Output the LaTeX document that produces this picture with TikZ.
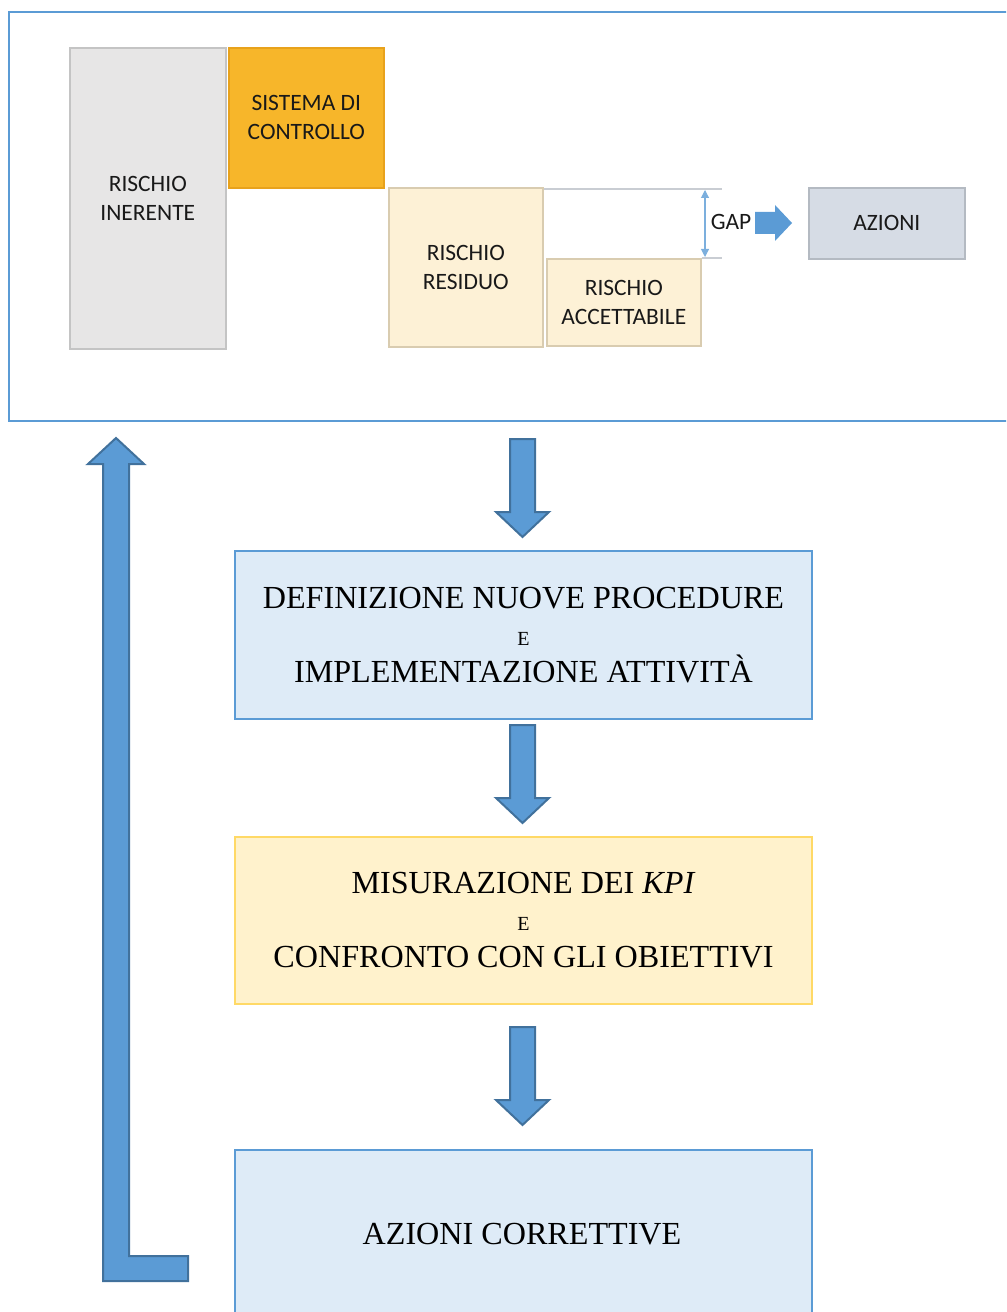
\documentclass[tikz,border=0pt]{standalone}
\usepackage{fontspec}
\setmainfont{Liberation Serif}
\newfontfamily\calib{Carlito}
\usetikzlibrary{arrows.meta}
\definecolor{frameblue}{HTML}{5B9BD5}
\definecolor{arrowfill}{HTML}{5B9BD5}
\definecolor{arrowline}{HTML}{41719C}
\definecolor{inhfill}{HTML}{E7E6E6}
\definecolor{inhline}{HTML}{C4C4C4}
\definecolor{ctrlfill}{HTML}{F7B62A}
\definecolor{ctrlline}{HTML}{E8A21C}
\definecolor{creamfill}{HTML}{FDF1D6}
\definecolor{creamline}{HTML}{D9CCB0}
\definecolor{azfill}{HTML}{D6DCE5}
\definecolor{azline}{HTML}{B4BAC2}
\definecolor{bluefill}{HTML}{DEEBF7}
\definecolor{yelfill}{HTML}{FFF2CC}
\definecolor{yelline}{HTML}{FFD966}
\definecolor{gapline}{HTML}{C9CDD3}
\tikzset{
  riskbox/.style={draw, line width=1.2pt, inner sep=0pt, align=center,
    font=\calib\fontsize{17.6}{21.75}\selectfont, text=black!90},
  bigbox/.style={draw=frameblue, line width=1.5pt, inner sep=0pt, align=center,
    font=\fontsize{24.1}{27.75}\selectfont},
  blockarrow/.style={fill=arrowfill, draw=arrowline, line width=1.5pt, line join=miter}
}
\newcommand{\smE}{{\fontsize{15}{27.75}\selectfont E}}
\begin{document}
\begin{tikzpicture}[x=0.75pt,y=-0.75pt]
\useasboundingbox (0,0) rectangle (1006,1312);
\clip (0,0) rectangle (1006,1312);
% top frame
\node[draw=frameblue, line width=1.5pt, minimum width=1004*0.75pt, minimum height=409*0.75pt, anchor=north west, inner sep=0pt] (frame) at (8,11) {};
% risk boxes
\node[riskbox, draw=inhline, fill=inhfill, minimum width=156*0.75pt, minimum height=301*0.75pt, anchor=north west] (inh) at (69,47) {RISCHIO\\INERENTE};
\node[riskbox, draw=ctrlline, fill=ctrlfill, minimum width=155*0.75pt, minimum height=140*0.75pt, anchor=north west] (ctrl) at (228,47) {SISTEMA DI\\CONTROLLO};
\node[riskbox, draw=creamline, fill=creamfill, minimum width=154*0.75pt, minimum height=159*0.75pt, anchor=north west] (res) at (388,187) {RISCHIO\\RESIDUO};
\node[riskbox, draw=creamline, fill=creamfill, minimum width=154*0.75pt, minimum height=87*0.75pt, anchor=north west] (acc) at (546,258) {RISCHIO\\ACCETTABILE};
\node[riskbox, draw=azline, fill=azfill, minimum width=156*0.75pt, minimum height=71*0.75pt, anchor=north west] (az) at (808,187) {AZIONI};
% gap lines
\coordinate (g1) at (722,189);
\coordinate (g2) at (722,258);
\draw[gapline, line width=1pt] (res.north east) ++(0,2) -- (g1);
\draw[gapline, line width=1pt] (acc.north east) -- (g2);
\coordinate (gt) at (705,190);
\coordinate (gb) at (705,257);
\draw[frameblue!80, line width=0.8pt, {Triangle[width=6pt,length=6pt]}-{Triangle[width=6pt,length=6pt]}] (gt) -- (gb);
\node[font=\calib\fontsize{17.6}{20}\selectfont, text=black!90, inner sep=0pt] (gap) at (731,222) {GAP};
\fill[arrowfill] (755,212) -- (775,212) -- (775,205) -- (792,223) -- (775,241) -- (775,234) -- (755,234) -- cycle;
% bottom boxes
\node[bigbox, fill=bluefill, minimum width=577*0.75pt, minimum height=168*0.75pt, anchor=north west] (def) at (234,550)
  {DEFINIZIONE NUOVE PROCEDURE\\ \smE\\IMPLEMENTAZIONE ATTIVITÀ};
\node[bigbox, draw=yelline, fill=yelfill, minimum width=577*0.75pt, minimum height=167*0.75pt, anchor=north west] (mis) at (234,836)
  {MISURAZIONE DEI \textit{KPI}\\ \smE\\CONFRONTO CON GLI OBIETTIVI};
\node[draw=frameblue, line width=1.5pt, fill=bluefill, minimum width=577*0.75pt, minimum height=180*0.75pt, anchor=north west, inner sep=0pt] (corr) at (234,1149) {};
\node[font=\fontsize{24.1}{27.75}\selectfont, inner sep=0pt] (corrtxt) at (522,1234) {AZIONI CORRETTIVE};
% down block arrows
\foreach \yy in {439,725,1027}{
  \draw[blockarrow] (510,\yy) -- (535,\yy) -- (535,\yy+73) -- (549,\yy+73) -- (522.5,\yy+98) -- (496,\yy+73) -- (510,\yy+73) -- cycle;
}
% loop-back L arrow
\draw[blockarrow] (103,1281) -- (188,1281) -- (188,1256) -- (129,1256) -- (129,464) -- (144,464) -- (116,438) -- (88,464) -- (103,464) -- cycle;
\end{tikzpicture}
\end{document}
